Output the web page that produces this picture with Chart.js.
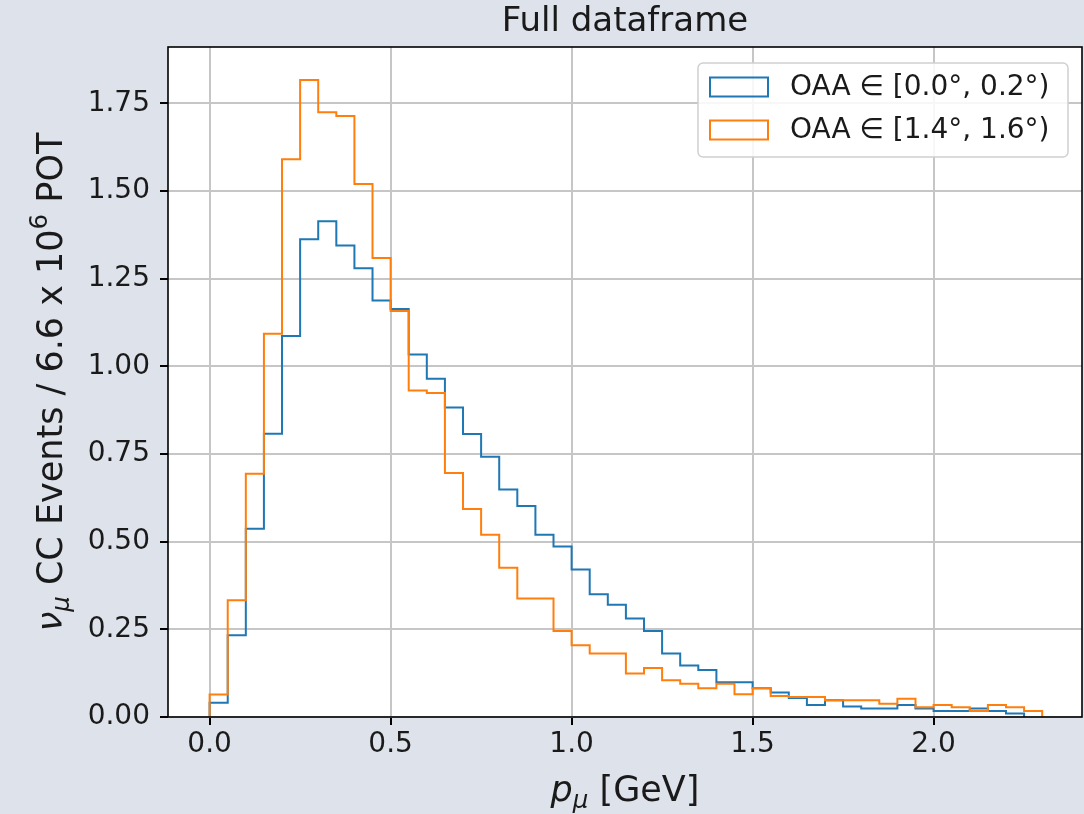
<!DOCTYPE html>
<html lang="en">
<head>
  <meta charset="UTF-8">
  <title>Full dataframe</title>
  <style>
    body {
      margin: 0;
      padding: 0;
      background-color: #dee2eb;
    }

    .container {
      position: relative;
      width: 1084px;
      height: 814px;
    }
  </style>
</head>
<body>
  <div class="container">
    <canvas id="hist"></canvas>
  </div>

  <script src="https://cdn.jsdelivr.net/npm/chart.js"></script>
  <script>
    // bin edges of p_mu, GeV
    const binEdges = [
      0.00, 0.05, 0.10, 0.15, 0.20, 0.25, 0.30, 0.35, 0.40, 0.45,
      0.50, 0.55, 0.60, 0.65, 0.70, 0.75, 0.80, 0.85, 0.90, 0.95,
      1.00, 1.05, 1.10, 1.15, 1.20, 1.25, 1.30, 1.35, 1.40, 1.45,
      1.50, 1.55, 1.60, 1.65, 1.70, 1.75, 1.80, 1.85, 1.90, 1.95,
      2.00, 2.05, 2.10, 2.15, 2.20, 2.25, 2.30
    ];

    // events per bin, OAA 0.0 - 0.2 deg
    const eventsLowOAA = [
      0.041, 0.233, 0.537, 0.808, 1.087, 1.363, 1.414, 1.345, 1.280, 1.188,
      1.164, 1.034, 0.965, 0.883, 0.807, 0.742, 0.649, 0.602, 0.520, 0.486,
      0.421, 0.350, 0.320, 0.281, 0.245, 0.181, 0.147, 0.134, 0.099, 0.099,
      0.082, 0.070, 0.054, 0.034, 0.048, 0.030, 0.024, 0.024, 0.034, 0.024,
      0.017, 0.017, 0.024, 0.017, 0.010
    ];

    // events per bin, OAA 1.4 - 1.6 deg
    const eventsHighOAA = [
      0.064, 0.333, 0.694, 1.093, 1.591, 1.817, 1.725, 1.714, 1.520, 1.309,
      1.158, 0.931, 0.924, 0.696, 0.593, 0.520, 0.426, 0.338, 0.338, 0.245,
      0.205, 0.181, 0.181, 0.124, 0.140, 0.105, 0.095, 0.082, 0.095, 0.065,
      0.082, 0.060, 0.057, 0.057, 0.048, 0.048, 0.048, 0.038, 0.052, 0.028,
      0.034, 0.028, 0.017, 0.034, 0.028, 0.017
    ];

    const seriesLabels = ['OAA \u2208 [0.0\u00b0, 0.2\u00b0)', 'OAA \u2208 [1.4\u00b0, 1.6\u00b0)'];
    const xTicks = [0.0, 0.5, 1.0, 1.5, 2.0];
    const yTicks = [0.00, 0.25, 0.50, 0.75, 1.00, 1.25, 1.50, 1.75];

    const FONT = '"DejaVu Sans", sans-serif';
    const BG = '#dee2eb';

    // step outline of a histogram: up from 0, across each bin, back down to 0
    function stepPoints(values) {
      const pts = [{ x: binEdges[0], y: 0 }];
      values.forEach((v, i) => pts.push({ x: binEdges[i + 1], y: v }));
      pts.push({ x: binEdges[values.length], y: 0 });
      return pts;
    }

    // text made of pieces, some as sub/superscript (mathtext-ish)
    function richWidth(ctx, parts, size) {
      let w = 0;
      parts.forEach(p => {
        const s = (p.sub || p.sup) ? size * 0.7 : size;
        ctx.font = (p.italic ? 'italic ' : '') + s + 'px ' + FONT;
        w += ctx.measureText(p.t).width;
      });
      return w;
    }

    function drawRich(ctx, parts, cx, baseline, size) {
      let x = cx - richWidth(ctx, parts, size) / 2;
      ctx.textAlign = 'left';
      ctx.textBaseline = 'alphabetic';
      parts.forEach(p => {
        const s = (p.sub || p.sup) ? size * 0.7 : size;
        ctx.font = (p.italic ? 'italic ' : '') + s + 'px ' + FONT;
        let dy = 0;
        if (p.sub) dy = size * 0.2;
        if (p.sup) dy = -size * 0.42;
        ctx.fillText(p.t, x, baseline + dy);
        x += ctx.measureText(p.t).width;
      });
    }

    const frame = {
      id: 'frame',
      beforeDraw(chart) {
        const { ctx, chartArea: a } = chart;
        ctx.save();
        ctx.fillStyle = BG;
        ctx.fillRect(0, 0, chart.width, chart.height);
        ctx.fillStyle = '#ffffff';
        ctx.fillRect(a.left, a.top, a.right - a.left, a.bottom - a.top);
        ctx.restore();
      },
      afterDatasetsDraw(chart) {
        const { ctx, chartArea: a } = chart;
        ctx.save();
        ctx.strokeStyle = '#000000';
        ctx.lineWidth = 1.6;
        ctx.strokeRect(a.left, a.top, a.right - a.left, a.bottom - a.top);
        ctx.restore();
      },
      afterDraw(chart) {
        const { ctx, chartArea: a } = chart;
        const cx = (a.left + a.right) / 2;
        ctx.save();
        ctx.fillStyle = '#1a1a1a';

        // title
        ctx.font = '34px ' + FONT;
        ctx.textAlign = 'center';
        ctx.textBaseline = 'alphabetic';
        ctx.fillText('Full dataframe', cx, 31);

        // x label
        drawRich(ctx, [
          { t: 'p', italic: true },
          { t: '\u03bc', italic: true, sub: true },
          { t: ' [GeV]' }
        ], cx, 801, 35);

        // y label
        ctx.save();
        ctx.translate(62, (a.top + a.bottom) / 2);
        ctx.rotate(-Math.PI / 2);
        drawRich(ctx, [
          { t: '\u03bd', italic: true },
          { t: '\u03bc', italic: true, sub: true },
          { t: ' CC Events / 6.6 x 10' },
          { t: '6', sup: true },
          { t: ' POT' }
        ], 0, 0, 35);
        ctx.restore();

        // legend, top right inside the axes
        const lx = 698, ly = 63, lw = 370, lh = 94;
        ctx.beginPath();
        if (ctx.roundRect) ctx.roundRect(lx, ly, lw, lh, 5);
        else ctx.rect(lx, ly, lw, lh);
        ctx.fillStyle = 'rgba(255,255,255,0.85)';
        ctx.fill();
        ctx.strokeStyle = '#d0d0d0';
        ctx.lineWidth = 1.5;
        ctx.stroke();

        ctx.font = '28px ' + FONT;
        ctx.textAlign = 'left';
        ctx.textBaseline = 'middle';
        chart.data.datasets.forEach((ds, i) => {
          const rowY = 87 + i * 43;
          ctx.strokeStyle = ds.borderColor;
          ctx.lineWidth = 2;
          ctx.strokeRect(710, rowY - 9.5, 58, 19);
          ctx.fillStyle = '#1a1a1a';
          ctx.fillText(ds.label, 790, rowY + 1);
        });
        ctx.restore();
      }
    };

    const ctx = document.getElementById('hist').getContext('2d');
    const histChart = new Chart(ctx, {
      type: 'line',
      data: {
        datasets: [
          {
            label: seriesLabels[0],
            data: stepPoints(eventsLowOAA),
            borderColor: '#1f77b4',
            borderWidth: 2,
            stepped: 'after',
            pointRadius: 0,
            fill: false,
            order: 1
          },
          {
            label: seriesLabels[1],
            data: stepPoints(eventsHighOAA),
            borderColor: '#ff7f0e',
            borderWidth: 2,
            stepped: 'after',
            pointRadius: 0,
            fill: false,
            order: 0
          }
        ]
      },
      options: {
        responsive: true,
        maintainAspectRatio: false,
        animation: false,
        layout: {
          padding: { top: 47, right: 2, bottom: 0, left: 0 }
        },
        plugins: {
          legend: { display: false },
          title: { display: false },
          tooltip: { enabled: false }
        },
        scales: {
          x: {
            type: 'linear',
            min: -0.115,
            max: 2.41,
            afterFit: s => { s.height = 97; },
            afterBuildTicks: s => { s.ticks = xTicks.map(v => ({ value: v })); },
            border: { display: false },
            grid: {
              color: '#c6c6c6',
              lineWidth: 2,
              tickColor: '#000000',
              tickWidth: 2,
              tickLength: 8
            },
            ticks: {
              padding: 3,
              color: '#1a1a1a',
              font: { family: 'DejaVu Sans', size: 28 },
              callback: v => v.toFixed(1)
            }
          },
          y: {
            type: 'linear',
            min: 0,
            max: 1.911,
            afterFit: s => { s.width = 168; },
            afterBuildTicks: s => { s.ticks = yTicks.map(v => ({ value: v })); },
            border: { display: false },
            grid: {
              color: '#c6c6c6',
              lineWidth: 2,
              tickColor: '#000000',
              tickWidth: 2,
              tickLength: 8
            },
            ticks: {
              padding: 10,
              color: '#1a1a1a',
              font: { family: 'DejaVu Sans', size: 28 },
              callback: v => v.toFixed(2)
            }
          }
        }
      },
      plugins: [frame]
    });
  </script>
</body>
</html>
